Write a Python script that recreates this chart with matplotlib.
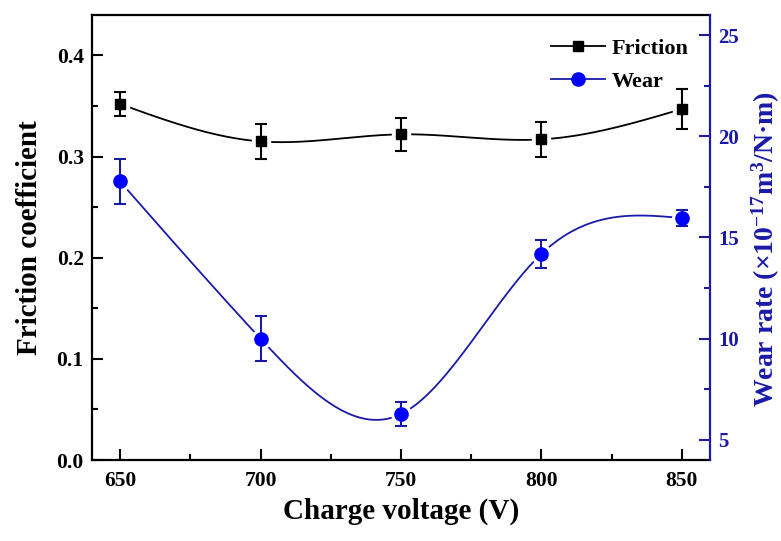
import numpy as np
import matplotlib
matplotlib.use("Agg")
import matplotlib.pyplot as plt
from matplotlib.lines import Line2D

plt.rcParams['font.family'] = ['Liberation Serif', 'DejaVu Serif']
plt.rcParams['font.weight'] = 'bold'
plt.rcParams['mathtext.fontset'] = 'custom'
plt.rcParams['mathtext.rm'] = 'Liberation Serif:bold'
plt.rcParams['mathtext.it'] = 'Liberation Serif:bold'
plt.rcParams['mathtext.bf'] = 'Liberation Serif:bold'

# ---- data ----
voltage = [650, 700, 750, 800, 850]
friction = [0.352, 0.315, 0.322, 0.317, 0.347]
friction_err = [0.012, 0.017, 0.016, 0.017, 0.020]
wear = [17.77, 10.0, 6.27, 14.19, 15.96]
wear_err = [1.1, 1.1, 0.6, 0.7, 0.4]

xticks = [650, 700, 750, 800, 850]
yticks_left = [0.0, 0.1, 0.2, 0.3, 0.4]
yticks_right = [5, 10, 15, 20, 25]


def natural_spline(x, y, xs):
    x = np.asarray(x, float); y = np.asarray(y, float)
    n = len(x)
    h = np.diff(x)
    A = np.zeros((n, n)); r = np.zeros(n)
    A[0, 0] = 1; A[-1, -1] = 1
    for i in range(1, n - 1):
        A[i, i - 1] = h[i - 1]
        A[i, i] = 2 * (h[i - 1] + h[i])
        A[i, i + 1] = h[i]
        r[i] = 6 * ((y[i + 1] - y[i]) / h[i] - (y[i] - y[i - 1]) / h[i - 1])
    M = np.linalg.solve(A, r)
    idx = np.clip(np.searchsorted(x, xs) - 1, 0, n - 2)
    x0 = x[idx]; x1 = x[idx + 1]; hh = x1 - x0
    a = (x1 - xs) / hh; b = (xs - x0) / hh
    return (a * y[idx] + b * y[idx + 1]
            + ((a ** 3 - a) * M[idx] + (b ** 3 - b) * M[idx + 1]) * hh ** 2 / 6)


black = 'black'
blue_line = '#1a1aa8'
blue_mk = '#0000ff'

fig = plt.figure(figsize=(7.81, 5.41), dpi=100)
ax = fig.add_axes([0.1178, 0.1497, 0.7912, 0.8226])
ax2 = ax.twinx()

xs = np.linspace(min(voltage), max(voltage), 400)

# friction
ax.plot(xs, natural_spline(voltage, friction, xs), color=black, lw=1.3, zorder=1)
ax.plot(voltage, friction, 's', ms=13, color='white', zorder=2)
ax.errorbar(voltage, friction, yerr=friction_err, fmt='none', ecolor=black,
            elinewidth=1.5, capsize=4, capthick=1.5, zorder=3)
ax.plot(voltage, friction, 's', ms=7.5, color=black, zorder=4)

# wear
ax2.plot(xs, natural_spline(voltage, wear, xs), color=blue_line, lw=1.3, zorder=1)
ax2.plot(voltage, wear, 'o', ms=14, color='white', zorder=2)
ax2.errorbar(voltage, wear, yerr=wear_err, fmt='none', ecolor=blue_line,
             elinewidth=1.5, capsize=4, capthick=1.5, zorder=3)
ax2.plot(voltage, wear, 'o', ms=9.5, color=blue_mk, zorder=4)

ax.set_xlim(640, 860)
ax.set_ylim(0, 0.44)
ax2.set_ylim(4, 26)

ax.set_xticks(xticks)
ax.set_xticks([675, 725, 775, 825], minor=True)
ax.set_yticks(yticks_left)
ax.set_yticklabels(['%.1f' % v for v in yticks_left])
ax.set_yticks([0.05, 0.15, 0.25, 0.35], minor=True)
ax2.set_yticks(yticks_right)
ax2.set_yticks([7.5, 12.5, 17.5, 22.5], minor=True)

for s in ax.spines.values():
    s.set_linewidth(1.6)
ax.spines['right'].set_visible(False)
for name, s in ax2.spines.items():
    s.set_linewidth(1.6)
    if name != 'right':
        s.set_visible(False)
ax2.spines['right'].set_color(blue_line)

ax.tick_params(which='major', direction='in', length=8, width=1.5, labelsize=15.5, pad=6)
ax.tick_params(which='minor', direction='in', length=4, width=1.5)
ax.tick_params(axis='x', pad=8)
ax2.tick_params(which='major', direction='in', length=8, width=1.5, labelsize=15,
                color=blue_line, labelcolor=blue_line, pad=6)
ax2.tick_params(which='minor', direction='in', length=4, width=1.5, color=blue_line)

ax.set_xlabel('Charge voltage (V)', fontsize=21, fontweight='bold', labelpad=5)
ax.set_ylabel('Friction coefficient', fontsize=21, fontweight='bold', labelpad=10)
ax2.set_ylabel('Wear rate (\u00d710$^{-17}$m$^{3}$/N\u00b7m)', fontsize=20,
               fontweight='bold', color=blue_line, labelpad=4)
ax2.yaxis.set_label_coords(1.064, 0.475)

handles = [Line2D([], [], color=black, lw=1.3, marker='s', ms=7.5),
           Line2D([], [], color=blue_line, lw=1.3, marker='o', ms=9.5,
                  markerfacecolor=blue_mk, markeredgecolor=blue_mk)]
ax2.legend(handles, ['Friction', 'Wear'], loc='upper right', frameon=False,
           prop={'family': 'Liberation Serif', 'weight': 'bold', 'size': 16},
           handlelength=2.4, handletextpad=0.3, labelspacing=0.55,
           bbox_to_anchor=(0.997, 0.992))

fig.savefig('out.png', dpi=100)
